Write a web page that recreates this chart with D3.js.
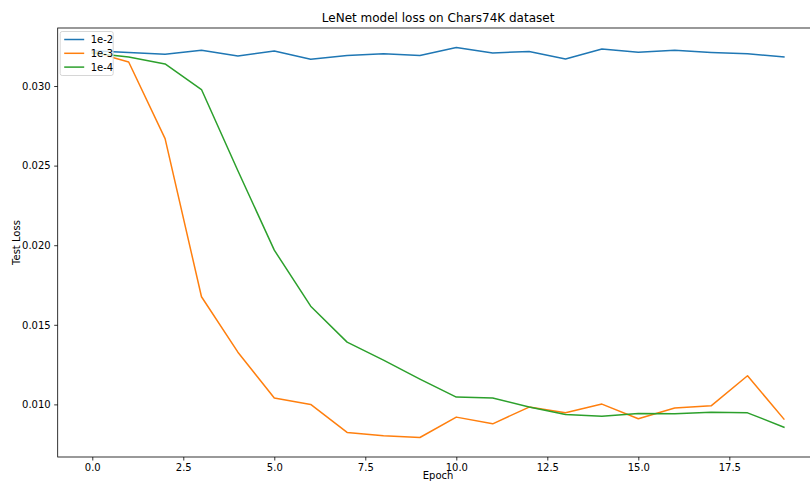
<!DOCTYPE html>
<html>
<head>
<meta charset="utf-8">
<script src="https://cdn.jsdelivr.net/npm/d3@7"></script>
<style>
  html, body { margin: 0; padding: 0; background: #fff; overflow: hidden; }
  svg { display: block; font-family: "DejaVu Sans", sans-serif; }
</style>
</head>
<body>
<svg id="chart" width="810" height="482"></svg>
<script>
// Test loss per epoch for three learning rates
const epochs = d3.range(0, 20);
const seriesNames = ["1e-2", "1e-3", "1e-4"];
const loss1e2 = [0.03221, 0.03211, 0.03200, 0.03225, 0.03189, 0.03220, 0.03168, 0.03192, 0.03202, 0.03192,
                 0.03242, 0.03208, 0.03217, 0.03170, 0.03233, 0.03212, 0.03225, 0.03211, 0.03202, 0.03183];
const loss1e3 = [0.03215, 0.03151, 0.02670, 0.01676, 0.01328, 0.01040, 0.01000, 0.00824, 0.00803, 0.00792,
                 0.00920, 0.00878, 0.00983, 0.00947, 0.01002, 0.00910, 0.00977, 0.00991, 0.01180, 0.00908];
const loss1e4 = [0.03207, 0.03182, 0.03139, 0.02978, 0.02468, 0.01969, 0.01617, 0.01391, 0.01278, 0.01159,
                 0.01046, 0.01040, 0.00983, 0.00937, 0.00925, 0.00943, 0.00941, 0.00950, 0.00947, 0.00857];
const colors = ["#1f77b4", "#ff7f0e", "#2ca02c"];
const xTicks = [0, 2.5, 5, 7.5, 10, 12.5, 15, 17.5];
const yTicks = [0.010, 0.015, 0.020, 0.025, 0.030];

const series = [loss1e2, loss1e3, loss1e4];

const svg = d3.select("#chart");
const margin = { left: 57.7, top: 28, right: 818.5, bottom: 457 };

// Axis limits padded by 5% of the data span on each side
function padded(lo, hi) {
  const p = (hi - lo) * 0.05;
  return [lo - p, hi + p];
}
const xDom = padded(d3.min(epochs), d3.max(epochs));
const allVals = series.flat();
const yDom = padded(d3.min(allVals), d3.max(allVals));

const x = d3.scaleLinear().domain(xDom).range([margin.left, margin.right]);
const y = d3.scaleLinear().domain(yDom).range([margin.bottom, margin.top]);

// Title
svg.append("text")
  .attr("x", (margin.left + margin.right) / 2)
  .attr("y", 22)
  .attr("text-anchor", "middle")
  .attr("font-size", 12)
  .attr("fill", "#000")
  .text("LeNet model loss on Chars74K dataset");

// Axes
const xAxis = d3.axisBottom(x).tickValues(xTicks).tickFormat(d3.format(".1f"))
  .tickSize(3.5).tickPadding(3.5);
const yAxis = d3.axisLeft(y).tickValues(yTicks).tickFormat(d3.format(".3f"))
  .tickSize(3.5).tickPadding(3.5);

const gx = svg.append("g").attr("transform", `translate(0,${margin.bottom})`).call(xAxis);
const gy = svg.append("g").attr("transform", `translate(${margin.left},0)`).call(yAxis);
[gx, gy].forEach(g => {
  g.select(".domain").remove();
  g.selectAll(".tick line").attr("stroke", "#000").attr("stroke-width", 0.8);
  g.selectAll(".tick text").attr("font-size", 10).attr("fill", "#000")
    .attr("font-family", "DejaVu Sans, sans-serif");
});

// Lines
const line = d3.line().x((d, i) => x(epochs[i])).y(d => y(d));
const plot = svg.append("g");
series.forEach((s, k) => {
  plot.append("path")
    .datum(s)
    .attr("fill", "none")
    .attr("stroke", colors[k])
    .attr("stroke-width", 1.5)
    .attr("stroke-linejoin", "round")
    .attr("stroke-linecap", "square")
    .attr("d", line);
});

// Frame (spines)
svg.append("rect")
  .attr("x", margin.left).attr("y", margin.top)
  .attr("width", margin.right - margin.left)
  .attr("height", margin.bottom - margin.top)
  .attr("fill", "none").attr("stroke", "#000").attr("stroke-width", 0.8);

// Axis labels
svg.append("text")
  .attr("x", (margin.left + margin.right) / 2)
  .attr("y", 479)
  .attr("text-anchor", "middle")
  .attr("font-size", 10)
  .attr("fill", "#000")
  .text("Epoch");

svg.append("text")
  .attr("transform", `translate(20,${(margin.top + margin.bottom) / 2}) rotate(-90)`)
  .attr("text-anchor", "middle")
  .attr("font-size", 10)
  .attr("fill", "#000")
  .text("Test Loss");

// Legend
const lg = svg.append("g").attr("transform", `translate(${margin.left + 2},${margin.top + 3})`);
lg.append("rect")
  .attr("x", 0.5).attr("y", 0.5).attr("width", 53).attr("height", 44)
  .attr("rx", 2).attr("ry", 2)
  .attr("fill", "#fff").attr("fill-opacity", 0.8)
  .attr("stroke", "#ccc").attr("stroke-width", 0.8);
seriesNames.forEach((name, k) => {
  const cy = 8.5 + k * 13.8;
  lg.append("line")
    .attr("x1", 4.5).attr("x2", 24.5).attr("y1", cy).attr("y2", cy)
    .attr("stroke", colors[k]).attr("stroke-width", 1.5);
  lg.append("text")
    .attr("x", 31).attr("y", cy + 3.5)
    .attr("font-size", 10).attr("fill", "#000")
    .text(name);
});
</script>
</body>
</html>
